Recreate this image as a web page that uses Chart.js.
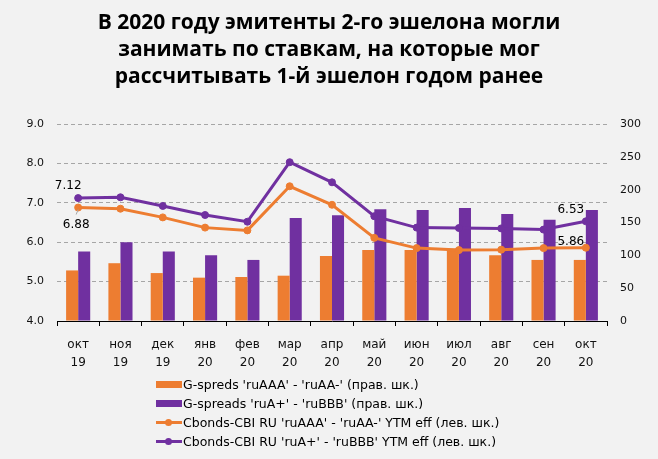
<!DOCTYPE html>
<html>
<head>
<meta charset="utf-8">
<script src="https://cdn.jsdelivr.net/npm/chart.js@4"></script>
<style>
  body { margin: 0; background: #F2F2F2; }
  #wrap { position: relative; width: 658px; height: 459px; background: #F2F2F2; }
  #legend { position: absolute; left: 156px; top: 375px; font: 12.5px "DejaVu Sans", sans-serif; color: #000; }
  .row { height: 19px; display: flex; align-items: center; white-space: nowrap; }
  .sw { position: relative; width: 26px; height: 19px; margin-right: 1px; }
  .bar { position: absolute; left: 0; top: 6px; width: 26px; height: 7px; }
  .ln { position: absolute; left: 0; top: 8px; width: 26px; height: 3px; }
  .dot { position: absolute; left: 9px; top: 6px; width: 7px; height: 7px; border-radius: 50%; }
</style>
</head>
<body>
<div id="wrap">
  <canvas id="chart" width="658" height="459"></canvas>
  <div id="legend"></div>
</div>
<script>
// Data
const months = [['окт','19'],['ноя','19'],['дек','19'],['янв','20'],['фев','20'],['мар','20'],['апр','20'],
                ['май','20'],['июн','20'],['июл','20'],['авг','20'],['сен','20'],['окт','20']];
const gSpreadAAA = [77, 88, 73, 66, 67, 69, 99, 108, 108, 110, 100, 93, 93];
const gSpreadA   = [106, 120, 106, 100, 93, 157, 161, 170, 169, 172, 163, 154, 169];
const ytmAAA = [6.88, 6.85, 6.63, 6.37, 6.30, 7.42, 6.95, 6.11, 5.85, 5.80, 5.81, 5.85, 5.86];
const ytmA   = [7.12, 7.14, 6.92, 6.69, 6.52, 8.03, 7.52, 6.66, 6.37, 6.36, 6.35, 6.32, 6.53];

const ORANGE = '#ED7D31';
const PURPLE = '#7030A0';
const FONT = '"DejaVu Sans", sans-serif';

// first / last point labels on the lines
const endLabels = {
    id: 'endLabels',
    afterDatasetsDraw(chart) {
        const ctx = chart.ctx;
        ctx.save();
        ctx.font = '12px ' + FONT;
        ctx.fillStyle = '#000';
        ctx.textAlign = 'center';
        ctx.textBaseline = 'middle';
        const put = (dsIndex, i, dx, dy) => {
            const pt = chart.getDatasetMeta(dsIndex).data[i];
            const v = chart.data.datasets[dsIndex].data[i];
            ctx.fillText(v.toFixed(2), pt.x + dx, pt.y + dy);
        };
        const last = months.length - 1;
        put(3, 0, -10, -12);
        put(2, 0, -2, 17);
        put(3, last, -15, -11);
        put(2, last, -15, -6);
        // small leader for 6.88
        const p = chart.getDatasetMeta(2).data[0];
        ctx.strokeStyle = '#A6A6A6';
        ctx.lineWidth = 1;
        ctx.beginPath();
        ctx.moveTo(p.x, p.y + 2);
        ctx.lineTo(p.x - 2, p.y + 7);
        ctx.stroke();
        ctx.restore();
    }
};

const lineStyle = {
    type: 'line',
    borderWidth: 3,
    pointRadius: 3.5,
    pointBorderWidth: 1,
    pointHoverRadius: 3.5,
    tension: 0,
    yAxisID: 'y',
    order: 0
};

const chart = new Chart(document.getElementById('chart'), {
    type: 'bar',
    data: {
        labels: months,
        datasets: [
            {
                label: "G-spreds 'ruAAA' - 'ruAA-' (прав. шк.)",
                data: gSpreadAAA,
                backgroundColor: ORANGE,
                yAxisID: 'y2',
                order: 1,
                categoryPercentage: 0.57,
                barPercentage: 1.0
            },
            {
                label: "G-spreads 'ruA+' - 'ruBBB' (прав. шк.)",
                data: gSpreadA,
                backgroundColor: PURPLE,
                yAxisID: 'y2',
                order: 1,
                categoryPercentage: 0.57,
                barPercentage: 1.0
            },
            {
                ...lineStyle,
                label: "Cbonds-CBI RU 'ruAAA' - 'ruAA-' YTM eff (лев. шк.)",
                data: ytmAAA,
                borderColor: ORANGE,
                backgroundColor: ORANGE
            },
            {
                ...lineStyle,
                label: "Cbonds-CBI RU 'ruA+' - 'ruBBB' YTM eff (лев. шк.)",
                data: ytmA,
                borderColor: PURPLE,
                backgroundColor: PURPLE
            }
        ]
    },
    options: {
        responsive: false,
        animation: false,
        layout: { padding: { left: 0, right: 0, top: 0, bottom: 88 } },
        plugins: {
            legend: { display: false },
            tooltip: { enabled: false },
            title: {
                display: true,
                text: ['В 2020 году эмитенты 2-го эшелона могли',
                       'занимать по ставкам, на которые мог',
                       'рассчитывать 1-й эшелон годом ранее'],
                font: { family: '"Open Sans", sans-serif', size: 21, weight: 'bold', lineHeight: 27 / 21 },
                color: '#000',
                padding: { top: 10, bottom: 33 }
            }
        },
        scales: {
            x: {
                offset: true,
                grid: { display: true, offset: true, drawOnChartArea: false, drawTicks: true, tickLength: 5, color: '#000' },
                border: { display: true, color: '#000', width: 1 },
                ticks: { color: '#111', font: { family: FONT, size: 12, lineHeight: 1.5 }, padding: 10, maxRotation: 0, autoSkip: false },
                afterFit: s => { s.height = 50; }
            },
            y: {
                position: 'left',
                min: 4, max: 9,
                ticks: { stepSize: 1, color: '#111', font: { family: FONT, size: 11 }, padding: 13,
                         callback: v => v.toFixed(1) },
                grid: { color: '#A6A6A6', borderDash: [4, 3], drawTicks: false, lineWidth: 1 },
                border: { display: false, dash: [4, 3] },
                afterFit: s => { s.width = 57; }
            },
            y2: {
                position: 'right',
                min: 0, max: 300,
                ticks: { stepSize: 50, color: '#111', font: { family: FONT, size: 11 }, padding: 13 },
                grid: { drawOnChartArea: false, drawTicks: false },
                border: { display: false },
                afterFit: s => { s.width = 51; }
            }
        }
    },
    plugins: [endLabels]
});

// Legend (vertical list, built from the datasets)
const legendEl = document.getElementById('legend');
chart.data.datasets.forEach(ds => {
    const row = document.createElement('div');
    row.className = 'row';
    const sw = document.createElement('span');
    sw.className = 'sw';
    if (ds.type === 'line') {
        sw.innerHTML = `<span class="ln" style="background:${ds.borderColor}"></span><span class="dot" style="background:${ds.borderColor}"></span>`;
    } else {
        sw.innerHTML = `<span class="bar" style="background:${ds.backgroundColor}"></span>`;
    }
    const txt = document.createElement('span');
    txt.textContent = ds.label;
    row.appendChild(sw);
    row.appendChild(txt);
    legendEl.appendChild(row);
});
</script>
</body>
</html>
